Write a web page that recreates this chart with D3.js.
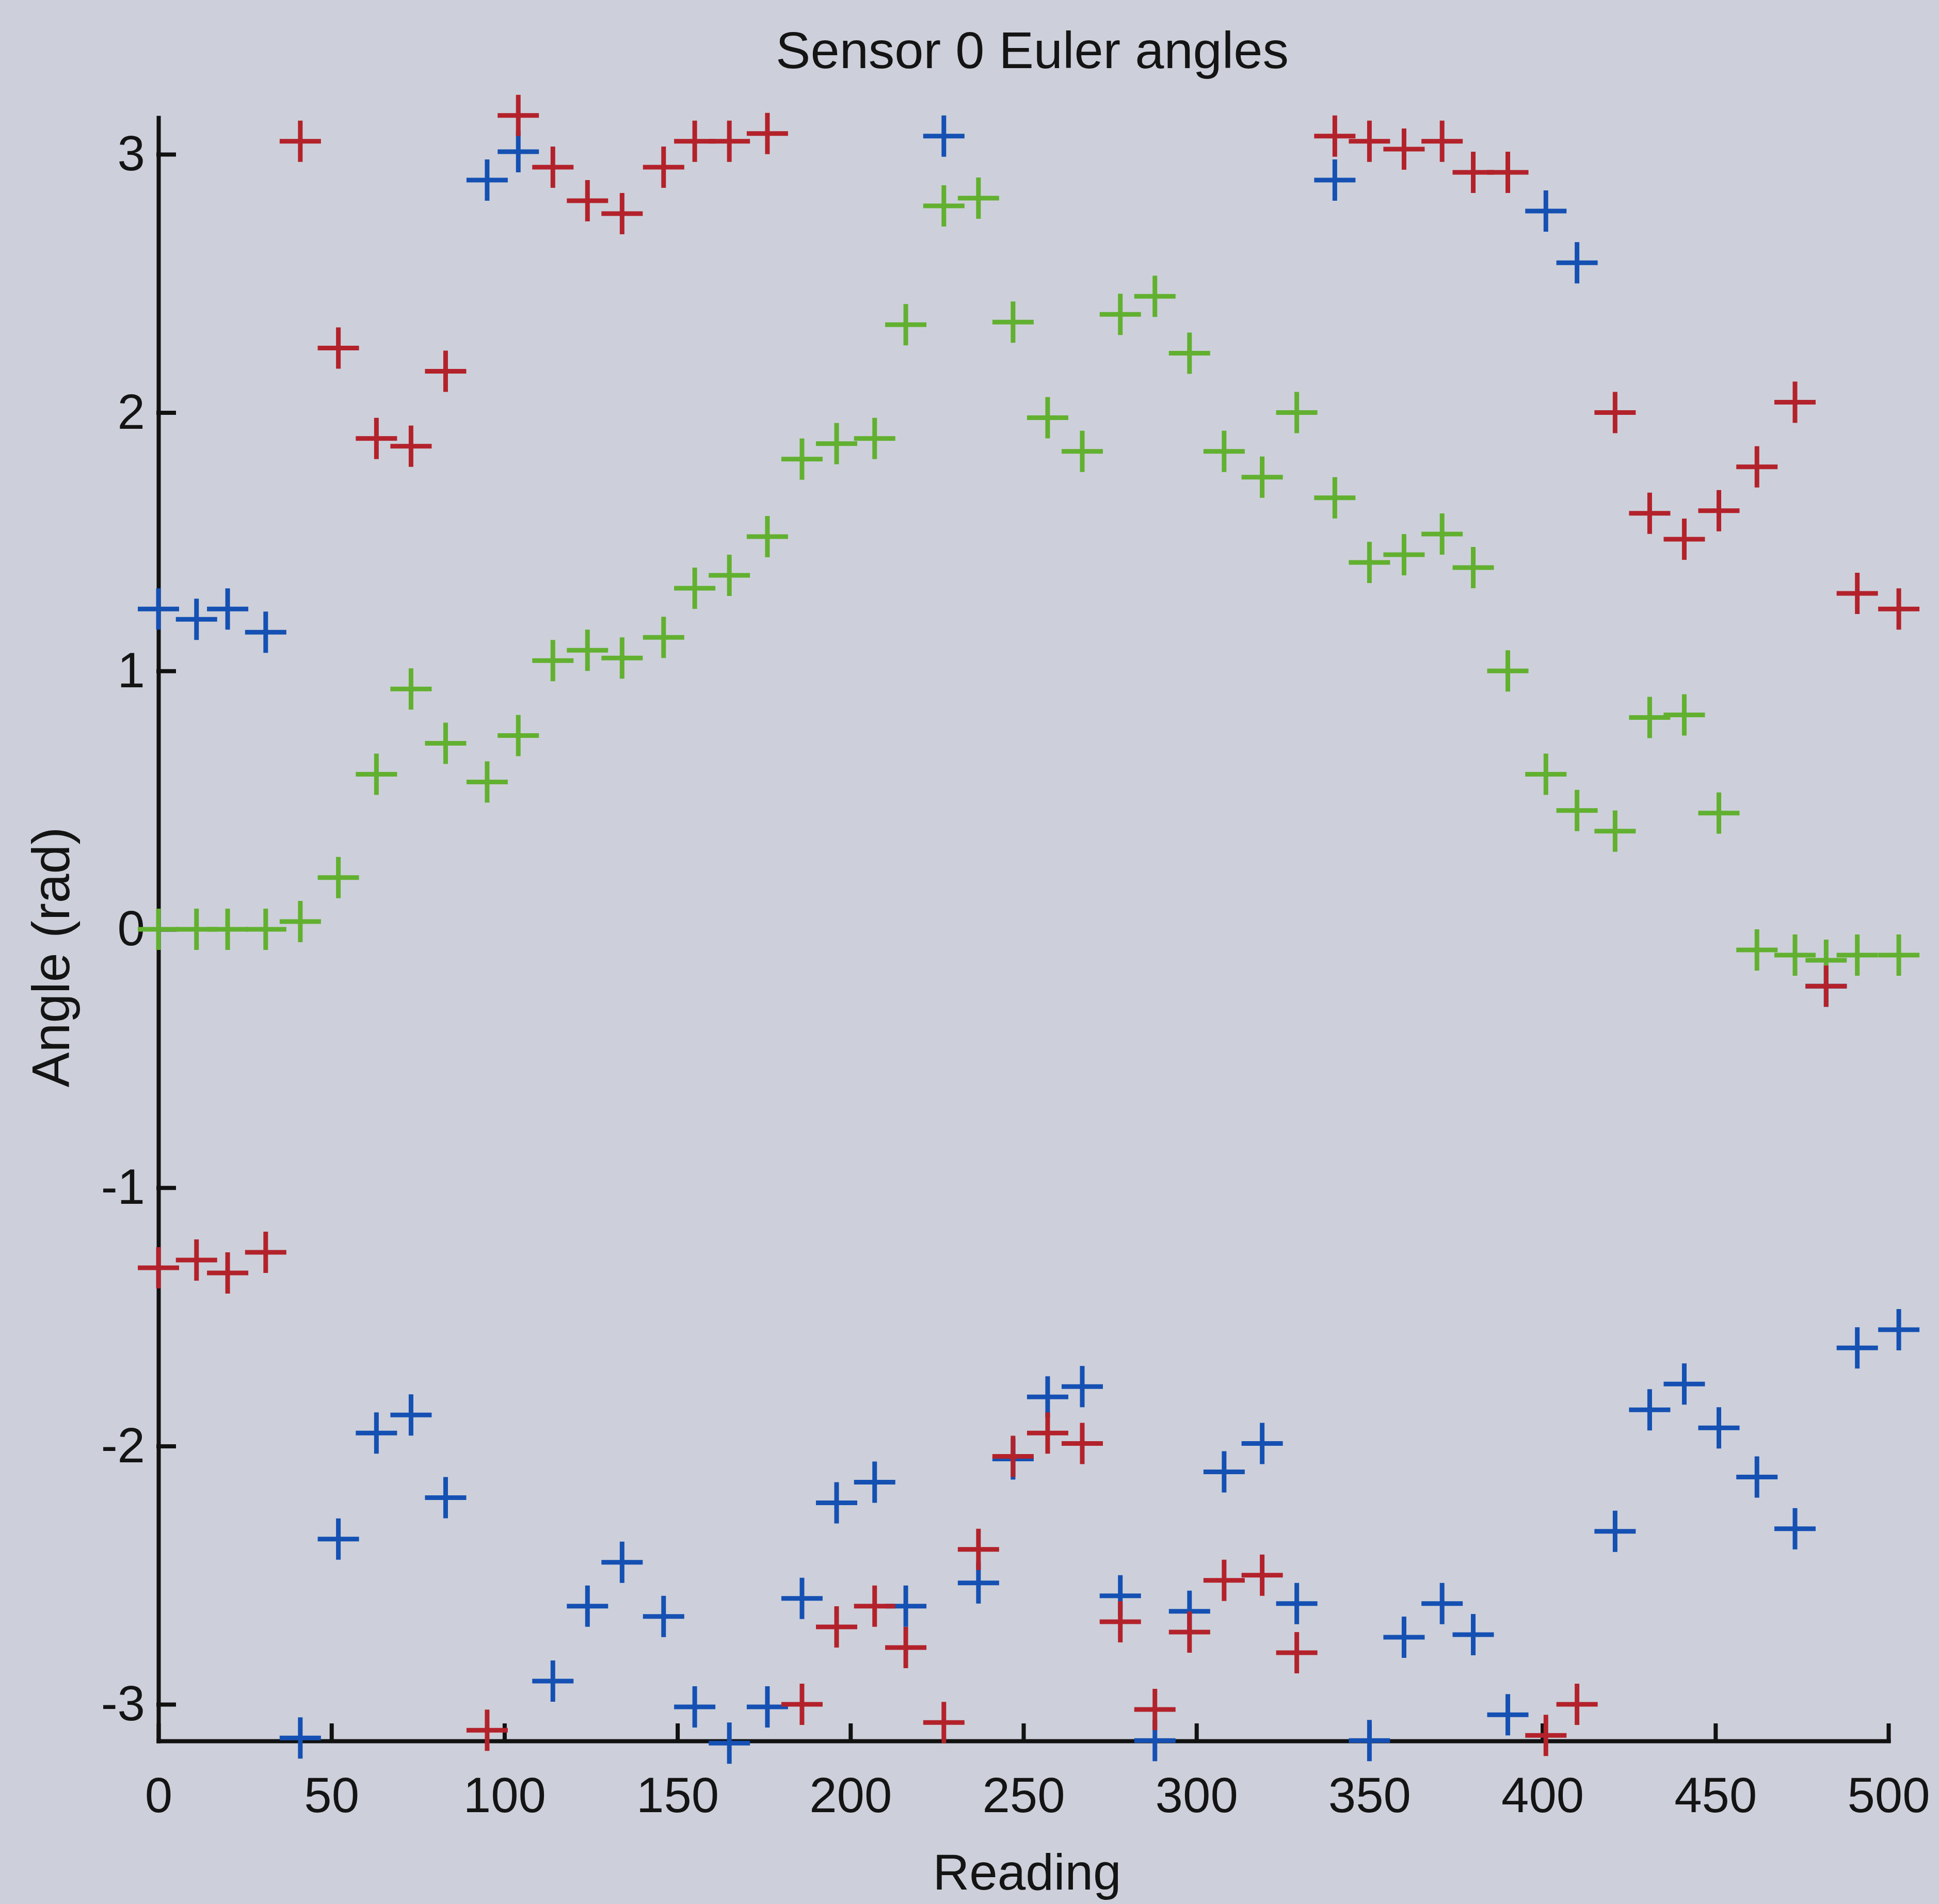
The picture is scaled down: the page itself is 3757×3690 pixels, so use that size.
<!DOCTYPE html>
<html>
<head>
<meta charset="utf-8">
<script src="https://cdn.jsdelivr.net/npm/d3@7"></script>
<style>
  html, body { margin: 0; padding: 0; background: #cdd0da; }
  svg { display: block; }
  text { font-family: "Liberation Sans", Arial, sans-serif; fill: #141414; }
</style>
</head>
<body>
<svg></svg>
<script>
const WIDTH = 3757
const HEIGHT = 3690

// reading number of each sample
const readings = [0, 11, 20, 31, 41, 52, 63, 73, 83, 95,
  104, 114, 124, 134, 146, 155, 165, 176, 186, 196,
  207, 216, 227, 237, 247, 257, 267, 278, 288, 298,
  308, 319, 329, 340, 350, 360, 371, 380, 390, 401,
  410, 421, 431, 441, 451, 462, 473, 482, 491, 503]

// euler angles (rad), one value per reading
const blueAngles = [1.24, 1.2, 1.24, 1.15, -3.13, -2.36, -1.95, -1.88, -2.2, 2.9,
  3.01, -2.91, -2.62, -2.45, -2.66, -3.01, -3.15, -3.01, -2.59, -2.22,
  -2.14, -2.62, 3.07, -2.53, -2.05, -1.81, -1.77, -2.58, -3.14, -2.64,
  -2.1, -1.99, -2.61, 2.9, -3.14, -2.74, -2.61, -2.73, -3.04, 2.78,
  2.58, -2.33, -1.86, -1.76, -1.93, -2.12, -2.32, -0.22, -1.62, -1.55]
const greenAngles = [0, 0, 0, 0, 0.03, 0.2, 0.6, 0.93, 0.72, 0.57,
  0.75, 1.04, 1.08, 1.05, 1.13, 1.32, 1.37, 1.52, 1.82, 1.88,
  1.9, 2.34, 2.8, 2.83, 2.35, 1.98, 1.85, 2.38, 2.45, 2.23,
  1.85, 1.75, 2.0, 1.67, 1.42, 1.45, 1.53, 1.4, 1.0, 0.6,
  0.46, 0.38, 0.82, 0.83, 0.45, -0.08, -0.1, -0.12, -0.1, -0.1]
const redAngles = [-1.31, -1.28, -1.33, -1.25, 3.05, 2.25, 1.9, 1.87, 2.16, -3.1,
  3.15, 2.95, 2.82, 2.77, 2.95, 3.05, 3.05, 3.08, -3.0, -2.7,
  -2.62, -2.78, -3.07, -2.4, -2.04, -1.95, -1.99, -2.68, -3.02, -2.72,
  -2.52, -2.5, -2.8, 3.07, 3.05, 3.02, 3.05, 2.93, 2.93, -3.12,
  -3.0, 2.0, 1.61, 1.51, 1.62, 1.79, 2.04, -0.22, 1.3, 1.24]

const xTicks = [0, 50, 100, 150, 200, 250, 300, 350, 400, 450, 500]
const yTicks = [-3, -2, -1, 0, 1, 2, 3]

const series = [
  { name: 'blue', color: '#1550b3', values: blueAngles },
  { name: 'green', color: '#62b030', values: greenAngles },
  { name: 'red', color: '#b3222b', values: redAngles }
]

const margin = { left: 307, right: 98, top: 228, bottom: 316 }

const svg = d3.select('svg')
  .attr('width', WIDTH)
  .attr('height', HEIGHT)
  .attr('viewBox', `0 0 ${WIDTH} ${HEIGHT}`)

const x = d3.scaleLinear()
  .domain([0, 500])
  .range([margin.left, WIDTH - margin.right])

const y = d3.scaleLinear()
  .domain([-Math.PI, Math.PI])
  .range([HEIGHT - margin.bottom, margin.top])

// title and labels
svg.append('text')
  .attr('x', 2000)
  .attr('y', 132)
  .attr('text-anchor', 'middle')
  .style('font-size', '101px')
  .text('Sensor 0 Euler angles')

svg.append('text')
  .attr('x', 1990)
  .attr('y', 3662)
  .attr('text-anchor', 'middle')
  .style('font-size', '98px')
  .text('Reading')

svg.append('text')
  .attr('transform', 'translate(134, 1855) rotate(-90)')
  .attr('text-anchor', 'middle')
  .style('font-size', '102px')
  .text('Angle (rad)')

// axes, ticks pointing inward like matlab
const axisX = d3.axisBottom(x)
  .tickValues(xTicks)
  .tickFormat(d3.format('d'))
  .tickSizeInner(-30)
  .tickSizeOuter(0)
  .tickPadding(70)

const axisY = d3.axisLeft(y)
  .tickValues(yTicks)
  .tickFormat(d => d < 0 ? '-' + Math.abs(d) : d)
  .tickSizeInner(-30)
  .tickSizeOuter(0)
  .tickPadding(26)

const axisXGroup = svg.append('g')
  .attr('transform', `translate(0, ${y(-Math.PI)})`)
  .call(axisX)

const axisYGroup = svg.append('g')
  .attr('transform', `translate(${x(0)}, 0)`)
  .call(axisY)

svg.selectAll('.domain, .tick line')
  .attr('stroke', '#111')
  .attr('stroke-width', 8)
  .attr('stroke-linecap', 'square')

svg.selectAll('.tick text')
  .style('font-size', '96px')
  .style('font-family', '"Liberation Sans", Arial, sans-serif')
  .attr('fill', '#141414')

// plus markers
const plus = 'M-40,0H40M0,-40V40'

series.forEach(s => {
  svg.append('g')
    .attr('class', 'series-' + s.name)
    .selectAll('path')
    .data(s.values.map((v, i) => ({ reading: readings[i], angle: v })))
    .enter()
    .append('path')
    .attr('d', plus)
    .attr('transform', d => `translate(${x(d.reading)}, ${y(d.angle)})`)
    .attr('fill', 'none')
    .attr('stroke', s.color)
    .attr('stroke-width', 9)
})
</script>
</body>
</html>
